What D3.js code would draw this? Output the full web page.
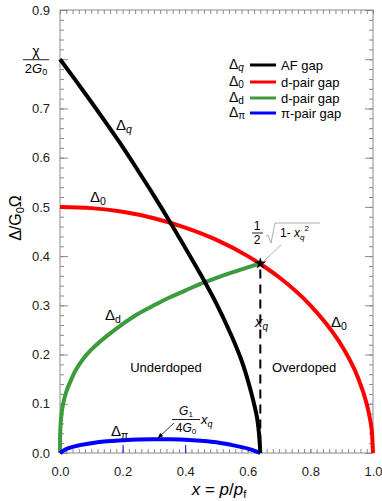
<!DOCTYPE html>
<html><head><meta charset="utf-8">
<script src="https://cdn.jsdelivr.net/npm/d3@7"></script>
<style>body{margin:0;background:#fff}text{font-family:"Liberation Sans",Arial,sans-serif}</style>
</head><body>
<svg id="c" width="382" height="501"></svg>
<script>
// ---- data ----
const xTicks = [0, 0.2, 0.4, 0.6, 0.8, 1.0];
const yTicks = [0, 0.1, 0.2, 0.3, 0.4, 0.5, 0.6, 0.7, 0.8, 0.9];
const xq = 0.64;
const starY = 0.385;
const dqX = [0, 0.05, 0.1, 0.15, 0.2, 0.25, 0.3, 0.35, 0.4, 0.45, 0.5, 0.55, 0.58, 0.61, 0.63, 0.64];
const dqY = [0.80, 0.757, 0.713, 0.668, 0.622, 0.573, 0.523, 0.471, 0.417, 0.362, 0.303, 0.235, 0.188, 0.125, 0.07, 0.0];
const d0X = [0, 0.1, 0.2, 0.3, 0.4, 0.5, 0.6, 0.64, 0.7, 0.8, 0.85, 0.9, 0.95, 0.98, 0.99, 0.997, 1.0];
const d0Y = [0.5, 0.4975, 0.490, 0.477, 0.458, 0.433, 0.400, 0.384, 0.357, 0.300, 0.263, 0.218, 0.156, 0.0995, 0.0705, 0.0387, 0.0];
const ddX = [0, 0.0005, 0.002, 0.005, 0.01, 0.02, 0.035, 0.05, 0.075, 0.1, 0.15, 0.2, 0.25, 0.3, 0.35, 0.4, 0.45, 0.5, 0.55, 0.6, 0.64];
const ddY = [0, 0.038, 0.058, 0.080, 0.100, 0.124, 0.148, 0.168, 0.192, 0.210, 0.238, 0.262, 0.283, 0.300, 0.316, 0.330, 0.344, 0.356, 0.367, 0.377, 0.385];
const dpX = [0, 0.02, 0.05, 0.1, 0.15, 0.2, 0.25, 0.3, 0.35, 0.4, 0.45, 0.5, 0.55, 0.6, 0.62, 0.64];
const dpY = [0, 0.008, 0.014, 0.020, 0.024, 0.026, 0.0275, 0.028, 0.028, 0.027, 0.025, 0.022, 0.016, 0.009, 0.005, 0];
const legendSym = ["q", "0", "d", "π"];
const legendText = ["AF gap", "d-pair gap", "d-pair gap", "π-pair gap"];
const colors = ["#000000", "#ff0000", "#3c9b3c", "#0000ff"];

const svg = d3.select("#c");
const x = d3.scaleLinear([0, 1], [60, 373]);
const y = d3.scaleLinear([0, 0.9], [453, 10]);
const grey = "#8a8a8a";

// frame
svg.append("rect").attr("x", x(0)).attr("y", y(0.9)).attr("width", x(1) - x(0)).attr("height", y(0) - y(0.9))
  .attr("fill", "none").attr("stroke", grey).attr("stroke-width", 1);

function styleAxis(g) { g.select(".domain").remove(); g.selectAll("line").attr("stroke", grey); }
const minorX = d3.range(0, 1.0001, 0.02);
const minorY = d3.range(0, 0.9001, 0.02);
svg.append("g").attr("transform", `translate(0,${y(0)})`).call(d3.axisBottom(x).tickValues(minorX).tickSize(-4).tickFormat("")).call(styleAxis);
svg.append("g").attr("transform", `translate(0,${y(0.9)})`).call(d3.axisTop(x).tickValues(minorX).tickSize(-4).tickFormat("")).call(styleAxis);
svg.append("g").attr("transform", `translate(${x(0)},0)`).call(d3.axisLeft(y).tickValues(minorY).tickSize(-4).tickFormat("")).call(styleAxis);
svg.append("g").attr("transform", `translate(${x(1)},0)`).call(d3.axisRight(y).tickValues(minorY).tickSize(-4).tickFormat("")).call(styleAxis);
svg.append("g").attr("transform", `translate(${x(0)},0)`).call(d3.axisLeft(y).tickValues(yTicks).tickSize(-8).tickFormat("")).call(styleAxis);
svg.append("g").attr("transform", `translate(${x(1)},0)`).call(d3.axisRight(y).tickValues(yTicks).tickSize(-8).tickFormat("")).call(styleAxis);

// x major axis with labels
const gx = svg.append("g").attr("transform", `translate(0,${y(0)})`)
  .call(d3.axisBottom(x).tickValues(xTicks).tickSize(-4).tickPadding(14).tickFormat(d3.format(".1f")));
gx.select(".domain").remove();
gx.selectAll("line").attr("stroke", d => (d === 0.2 || d === 0.4) ? "#0000ff" : grey).attr("y2", d => (d === 0.2 || d === 0.4) ? -8 : -4);
gx.selectAll("text").attr("font-size", 13).attr("fill", "#222").attr("font-family", "Liberation Sans, Arial");

const gy = svg.append("g").attr("transform", `translate(${x(0)},0)`)
  .call(d3.axisLeft(y).tickValues(yTicks).tickSize(0).tickPadding(10).tickFormat(d => Math.abs(d - 0.8) < 1e-9 ? "" : d3.format(".1f")(d)));
gy.select(".domain").remove();
gy.selectAll("text").attr("font-size", 13).attr("fill", "#222").attr("font-family", "Liberation Sans, Arial");

// chi / 2G0 label at 0.8
const fy = y(0.8);
svg.append("text").attr("x", 36).attr("y", fy - 3).attr("text-anchor", "middle").attr("font-size", 14).text("χ");
svg.append("line").attr("x1", 23).attr("x2", 49).attr("y1", fy + 0.5).attr("y2", fy + 0.5).attr("stroke", "#222").attr("stroke-width", 1);
const t2 = svg.append("text").attr("x", 36).attr("y", fy + 14).attr("text-anchor", "middle").attr("font-size", 13);
t2.append("tspan").text("2");
t2.append("tspan").attr("font-style", "italic").text("G");
t2.append("tspan").attr("font-size", 9).attr("dy", 2).text("0");

// y axis label
const yl = svg.append("text").attr("transform", "translate(21,218) rotate(-90)").attr("text-anchor", "middle").attr("font-size", 16);
yl.append("tspan").text("Δ/G");
yl.append("tspan").attr("font-size", 11).attr("dy", 3).text("0");
yl.append("tspan").attr("dy", -3).text("Ω");

// x axis label
const xl = svg.append("text").attr("x", 219).attr("y", 495).attr("text-anchor", "middle").attr("font-size", 17);
xl.append("tspan").attr("font-style", "italic").text("x");
xl.append("tspan").text(" = ");
xl.append("tspan").attr("font-style", "italic").text("p");
xl.append("tspan").text("/");
xl.append("tspan").attr("font-style", "italic").text("p");
xl.append("tspan").attr("font-size", 11).attr("dy", 3).text("f");

// curves
const lineX = d3.line().x(d => x(d[0])).y(d => y(d[1])).curve(d3.curveMonotoneX);
const lineY = d3.line().x(d => x(d[0])).y(d => y(d[1])).curve(d3.curveMonotoneY);
const series = [
  { xs: d0X, ys: d0Y, c: colors[1], gen: lineX },
  { xs: ddX, ys: ddY, c: colors[2], gen: lineY },
  { xs: dpX, ys: dpY, c: colors[3], gen: lineX },
  { xs: dqX, ys: dqY, c: colors[0], gen: lineY }
];
series.forEach(s => {
  const pts = s.xs.map((v, k) => [v, s.ys[k]]);
  svg.append("path").attr("d", s.gen(pts)).attr("fill", "none")
    .attr("stroke", s.c).attr("stroke-width", 4).attr("stroke-linecap", "butt");
});

// dashed xq line
svg.append("line").attr("x1", x(xq)).attr("x2", x(xq)).attr("y1", y(starY) + 6).attr("y2", y(0))
  .attr("stroke", "#000").attr("stroke-width", 2).attr("stroke-dasharray", "9,6");
// star
svg.append("path").attr("d", d3.symbol(d3.symbolStar, 45)()).attr("transform", `translate(${x(xq)},${y(starY)})`).attr("fill", "#000");

// curve labels
function delta(xp, yp, sub, italicSub, fs) {
  const t = svg.append("text").attr("x", xp).attr("y", yp).attr("font-size", fs || 15);
  t.append("tspan").text("Δ");
  t.append("tspan").attr("font-size", (fs || 15) * 0.7).attr("dy", 3).attr("font-style", italicSub ? "italic" : "normal").text(sub);
  return t;
}
delta(116, 130, "q", true);
delta(90, 202, "0", false);
delta(105, 320, "d", false);
delta(111, 436, "π", false);
delta(331, 327, "0", false);

svg.append("text").attr("x", 166).attr("y", 372).attr("text-anchor", "middle").attr("font-size", 13).text("Underdoped");
svg.append("text").attr("x", 272).attr("y", 372).attr("font-size", 13).text("Overdoped");

const xqT = svg.append("text").attr("x", 255).attr("y", 327).attr("font-size", 15).attr("font-style", "italic");
xqT.append("tspan").text("x");
xqT.append("tspan").attr("font-size", 10).attr("dy", 3).text("q");

// 1/2 sqrt(1-xq^2)
svg.append("text").attr("x", 257).attr("y", 230).attr("text-anchor", "middle").attr("font-size", 12).text("1");
svg.append("line").attr("x1", 252).attr("x2", 263).attr("y1", 233).attr("y2", 233).attr("stroke", "#222");
svg.append("text").attr("x", 257).attr("y", 244).attr("text-anchor", "middle").attr("font-size", 12).text("2");
svg.append("path").attr("d", "M266,236 L268,235 L271,243 L275,223 L320,223").attr("fill", "none").attr("stroke", "#999").attr("stroke-width", 0.8);
const sq = svg.append("text").attr("x", 280).attr("y", 237).attr("font-size", 12);
sq.append("tspan").text("1- ");
sq.append("tspan").attr("font-style", "italic").text("x");
sq.append("tspan").attr("font-size", 8).attr("dy", 3).attr("font-style", "italic").text("q");
sq.append("tspan").attr("font-size", 8).attr("dy", -9).text("2");
svg.append("line").attr("x1", 281).attr("y1", 245).attr("x2", 264).attr("y2", 261).attr("stroke", "#999").attr("stroke-width", 0.8);

// G1/4G0 xq
const g1 = svg.append("text").attr("x", 186).attr("y", 415).attr("text-anchor", "middle").attr("font-size", 12);
g1.append("tspan").attr("font-style", "italic").text("G");
g1.append("tspan").attr("font-size", 8).attr("dy", 2).text("1");
svg.append("line").attr("x1", 172).attr("x2", 200).attr("y1", 419.5).attr("y2", 419.5).attr("stroke", "#222");
const g4 = svg.append("text").attr("x", 186).attr("y", 432).attr("text-anchor", "middle").attr("font-size", 12);
g4.append("tspan").text("4");
g4.append("tspan").attr("font-style", "italic").text("G");
g4.append("tspan").attr("font-size", 8).attr("dy", 2).text("0");
const gx2 = svg.append("text").attr("x", 201).attr("y", 424).attr("font-size", 13).attr("font-style", "italic");
gx2.append("tspan").text("x");
gx2.append("tspan").attr("font-size", 9).attr("dy", 3).text("q");
svg.append("defs").append("marker").attr("id", "ah").attr("viewBox", "0 0 10 10").attr("refX", 9).attr("refY", 5)
  .attr("markerWidth", 7).attr("markerHeight", 7).attr("orient", "auto")
  .append("path").attr("d", "M0,1 L10,5 L0,9 z").attr("fill", "#000");
svg.append("line").attr("x1", 174).attr("y1", 423).attr("x2", 158).attr("y2", 438).attr("stroke", "#000").attr("stroke-width", 0.8).attr("marker-end", "url(#ah)");

// legend
const ly = [65, 82, 98, 113];
legendSym.forEach((s, i) => {
  const t = svg.append("text").attr("x", 229).attr("y", ly[i] + 4).attr("font-size", 14);
  t.append("tspan").text("Δ");
  t.append("tspan").attr("font-size", 10).attr("dy", 2).attr("font-style", i === 0 ? "italic" : "normal").text(s);
  svg.append("line").attr("x1", 250).attr("x2", 276).attr("y1", ly[i]).attr("y2", ly[i]).attr("stroke", colors[i]).attr("stroke-width", 3);
  svg.append("text").attr("x", 281).attr("y", ly[i] + 5).attr("font-size", 13).text(legendText[i]);
});
</script>
</body></html>
